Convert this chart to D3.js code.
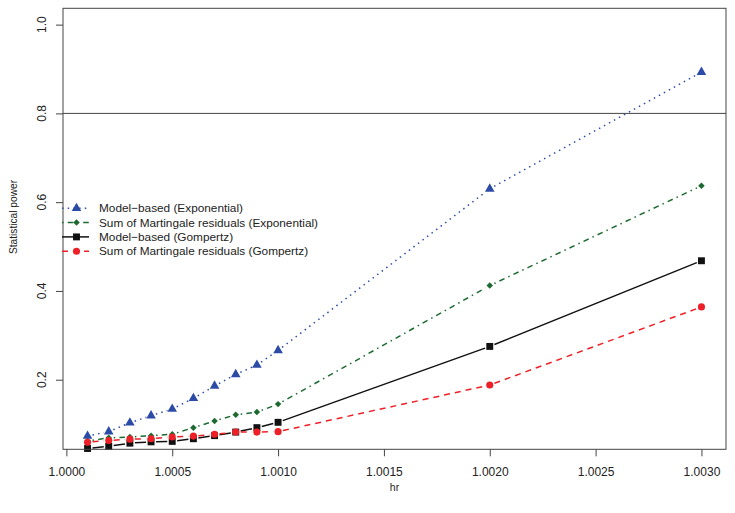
<!DOCTYPE html>
<html>
<head>
<meta charset="utf-8">
<script src="https://cdn.jsdelivr.net/npm/d3@7"></script>
<style>
  body { margin: 0; background: #fff; }
  text { font-family: "Liberation Sans", Arial, sans-serif; fill: #222; }
</style>
</head>
<body>
<div id="chart"></div>
<script>
var width = 735;
var height = 513;

// data
var hr = [1.0001, 1.0002, 1.0003, 1.0004, 1.0005, 1.0006, 1.0007, 1.0008, 1.0009, 1.0010, 1.0020, 1.0030];
var modelExp = [0.073, 0.083, 0.103, 0.119, 0.134, 0.158, 0.186, 0.212, 0.233, 0.266, 0.630, 0.893];
var martExp = [0.062, 0.069, 0.071, 0.074, 0.077, 0.092, 0.107, 0.121, 0.127, 0.145, 0.412, 0.637];
var modelGomp = [0.045, 0.050, 0.057, 0.060, 0.061, 0.067, 0.074, 0.082, 0.092, 0.104, 0.275, 0.468];
var martGomp = [0.059, 0.063, 0.066, 0.067, 0.071, 0.073, 0.077, 0.082, 0.082, 0.083, 0.188, 0.364];
var seriesNames = ["Model\u2212based (Exponential)", "Sum of Martingale residuals (Exponential)",
                   "Model\u2212based (Gompertz)", "Sum of Martingale residuals (Gompertz)"];
var xTicks = [1.0000, 1.0005, 1.0010, 1.0015, 1.0020, 1.0025, 1.0030];
var yTicks = [0.2, 0.4, 0.6, 0.8, 1.0];
var refLine = 0.8;

var plotLeft = 63, plotRight = 726, plotTop = 8.3, plotBottom = 449.3;

var x = d3.scaleLinear().domain([0.999984, 1.003116]).range([plotLeft, plotRight]);
var y = d3.scaleLinear().domain([0.0432, 1.0368]).range([plotBottom, plotTop]);

var svg = d3.select("#chart").append("svg")
  .attr("width", width)
  .attr("height", height);

// styles per series
var styles = [
  { values: modelExp, color: "#2c4ba6", dash: "1.5,4.2", shape: "triangle" },
  { values: martExp, color: "#1d6a31", dash: "1.5,4.2,5.6,4.2", shape: "diamond" },
  { values: modelGomp, color: "#111111", dash: null, shape: "square" },
  { values: martGomp, color: "#ee2027", dash: "6,5", shape: "circle" }
];

function symbolPath(shape) {
  if (shape == "triangle") return d3.symbol(d3.symbolTriangle, 40)();
  if (shape == "square") return d3.symbol(d3.symbolSquare, 48)();
  if (shape == "circle") return d3.symbol(d3.symbolCircle, 40)();
  return d3.symbol(d3.symbolSquare, 21)();
}

// axes
var xAxis = d3.axisBottom(x)
  .tickValues(xTicks)
  .tickFormat(d3.format(".4f"))
  .tickSize(7)
  .tickSizeOuter(0)
  .tickPadding(11);

var gx = svg.append("g")
  .attr("transform", "translate(0," + plotBottom + ")")
  .call(xAxis);
gx.select(".domain").remove();
gx.selectAll("line").attr("stroke", "#444");
gx.selectAll("text").style("font-size", "12px").attr("fill", "#222")
  .style("font-family", "Liberation Sans, Arial, sans-serif");

var yAxis = d3.axisLeft(y)
  .tickValues(yTicks)
  .tickFormat("")
  .tickSize(7)
  .tickSizeOuter(0);

var gy = svg.append("g")
  .attr("transform", "translate(" + plotLeft + ",0)")
  .call(yAxis);
gy.select(".domain").remove();
gy.selectAll("line").attr("stroke", "#444");

svg.selectAll(".ylab")
  .data(yTicks)
  .enter().append("text")
    .attr("class", "ylab")
    .attr("transform", function(d) { return "translate(42," + y(d) + ") rotate(-90)"; })
    .attr("text-anchor", "middle")
    .attr("dy", "0.35em")
    .style("font-size", "12px")
    .text(function(d) { return d.toFixed(1); });

// axis titles
svg.append("text")
  .attr("x", (plotLeft + plotRight) / 2)
  .attr("y", 487)
  .attr("text-anchor", "middle")
  .attr("dy", "0.35em")
  .style("font-size", "10.5px")
  .text("hr");

svg.append("text")
  .attr("transform", "translate(13,217) rotate(-90)")
  .attr("text-anchor", "middle")
  .attr("dy", "0.35em")
  .style("font-size", "10.2px")
  .text("Statistical power");

// reference line at 0.8
svg.append("line")
  .attr("x1", plotLeft).attr("x2", plotRight)
  .attr("y1", y(refLine)).attr("y2", y(refLine))
  .attr("stroke", "#444")
  .attr("stroke-width", 1);

// lines with gaps around the points (like type = "b")
var gap = 5;
styles.forEach(function(s) {
  var pts = hr.map(function(h, i) { return [x(h), y(s.values[i])]; });
  var segs = [];
  for (var i = 0; i < pts.length - 1; i++) {
    var dx = pts[i+1][0] - pts[i][0], dy = pts[i+1][1] - pts[i][1];
    var len = Math.sqrt(dx*dx + dy*dy);
    if (len <= 2 * gap) continue;
    var ux = dx / len, uy = dy / len;
    segs.push([pts[i][0] + ux*gap, pts[i][1] + uy*gap, pts[i+1][0] - ux*gap, pts[i+1][1] - uy*gap]);
  }
  svg.append("g").selectAll("line")
    .data(segs)
    .enter().append("line")
      .attr("x1", function(d) { return d[0]; })
      .attr("y1", function(d) { return d[1]; })
      .attr("x2", function(d) { return d[2]; })
      .attr("y2", function(d) { return d[3]; })
      .attr("stroke", s.color)
      .attr("stroke-width", 1.5)
      .attr("stroke-dasharray", s.dash);

  svg.append("g").selectAll("path")
    .data(s.values)
    .enter().append("path")
      .attr("d", symbolPath(s.shape))
      .attr("transform", function(d, i) {
        var t = "translate(" + x(hr[i]) + "," + y(d) + ")";
        return s.shape == "diamond" ? t + " rotate(45)" : t;
      })
      .attr("fill", s.color);
});

// plot box
svg.append("rect")
  .attr("x", plotLeft).attr("y", plotTop)
  .attr("width", plotRight - plotLeft).attr("height", plotBottom - plotTop)
  .attr("fill", "none")
  .attr("stroke", "#444")
  .attr("stroke-width", 1);

// legend
var legend = svg.append("g");
var legRows = legend.selectAll("g")
  .data(styles)
  .enter().append("g")
    .attr("transform", function(d, i) { return "translate(0," + (208.3 + i * 14.3) + ")"; });

legRows.append("line")
  .attr("x1", 62).attr("x2", 89)
  .attr("stroke", function(d) { return d.color; })
  .attr("stroke-width", 1.5)
  .attr("stroke-dasharray", function(d) { return d.dash; });

legRows.append("path")
  .attr("d", function(d) { return symbolPath(d.shape); })
  .attr("transform", function(d) { return d.shape == "diamond" ? "translate(76.5,0) rotate(45)" : "translate(76.5,0)"; })
  .attr("fill", function(d) { return d.color; });

legRows.append("text")
  .attr("x", 99)
  .attr("dy", "0.35em")
  .style("font-size", "11.8px")
  .text(function(d, i) { return seriesNames[i]; });
</script>
</body>
</html>
